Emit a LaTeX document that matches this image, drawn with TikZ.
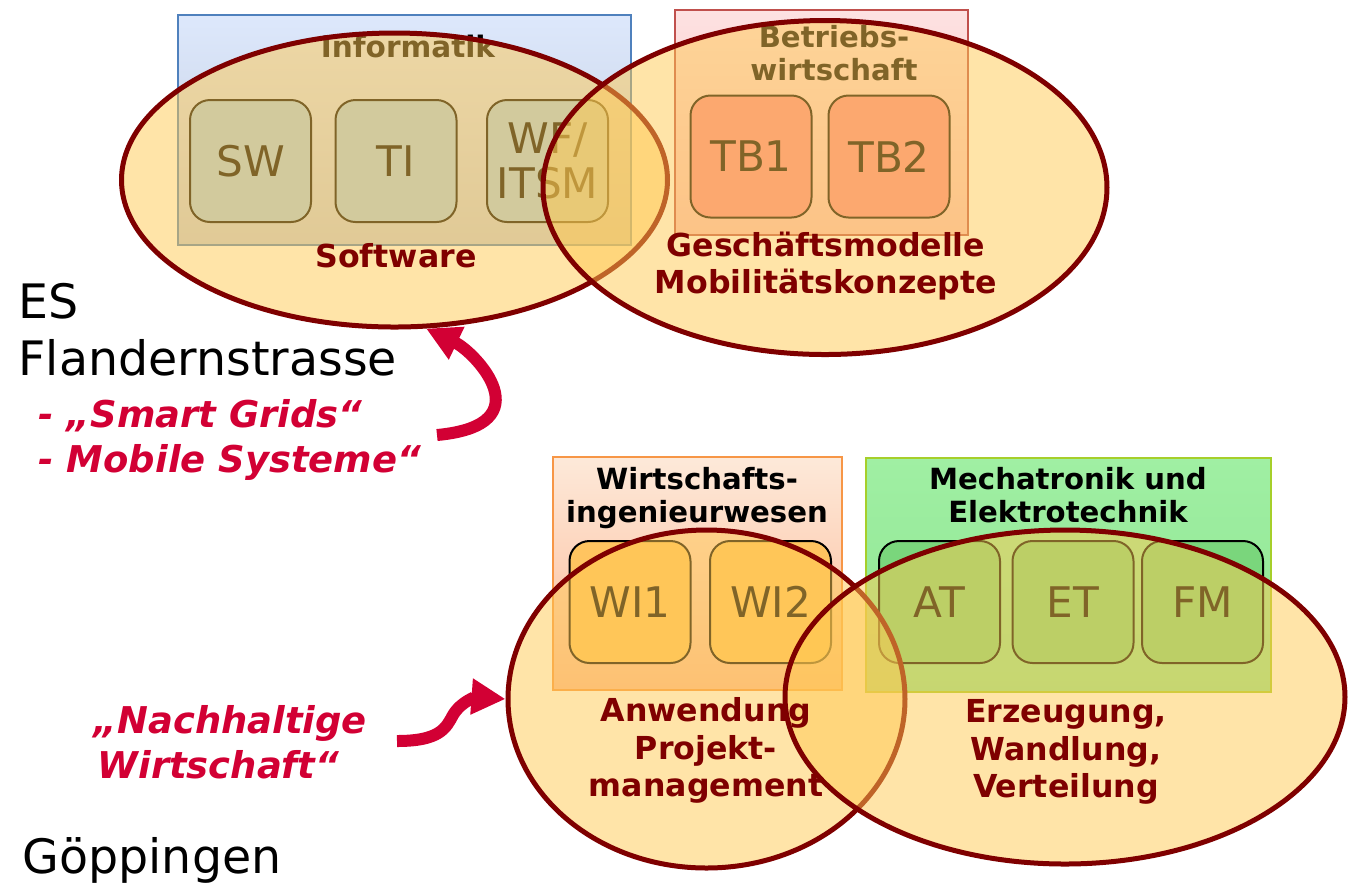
\documentclass[tikz,border=0pt]{standalone}
\usepackage{fontspec}
\setmainfont{DejaVu Sans}
\usepackage{xcolor}
\usepackage{tikz}
\usetikzlibrary{arrows.meta,shapes.geometric}
\definecolor{ellfill}{RGB}{255,201,81}
\definecolor{ellline}{RGB}{127,0,0}
\definecolor{arrred}{RGB}{210,0,52}
\definecolor{infotop}{RGB}{221,232,252}
\definecolor{infobot}{RGB}{194,204,221}
\definecolor{infoline}{RGB}{79,129,189}
\definecolor{infobox}{RGB}{165,205,235}
\definecolor{betrtop}{RGB}{253,226,226}
\definecolor{betrbot}{RGB}{250,190,190}
\definecolor{betrline}{RGB}{192,80,77}
\definecolor{tbbox}{RGB}{250,135,143}
\definecolor{witop}{RGB}{253,233,217}
\definecolor{wibot}{RGB}{252,185,150}
\definecolor{wiline}{RGB}{247,150,70}
\definecolor{wibox}{RGB}{255,196,96}
\definecolor{mttop}{RGB}{160,239,163}
\definecolor{mtbot}{RGB}{142,229,146}
\definecolor{mtline}{RGB}{166,207,42}
\definecolor{mtbox}{RGB}{122,214,124}
\tikzset{BOX style/.style={rectangle,draw=black,line width=0.2mm,rounded corners=2mm,minimum width=12.1mm,minimum height=12.2mm,inner sep=0,align=center,font=\fontsize{12}{12.8}\selectfont},
	GRP style/.style={inner sep=0,align=center,font=\bfseries\fontsize{8.3}{9.4}\selectfont},
	ELL style/.style={ellipse,draw=ellline,line width=0.5mm,fill=ellfill,fill opacity=0.5,inner sep=0},
	ELAB style/.style={inner sep=0,align=center,text=ellline,font=\bfseries\fontsize{9}{10.7}\selectfont},
	LOC style/.style={anchor=base west,inner sep=0,font=\fontsize{13.5}{16}\selectfont},
	RED style/.style={anchor=base west,inner sep=0,text=arrred,font=\bfseries\itshape\fontsize{10.5}{13}\selectfont},
	ARR style/.style={draw=arrred,line width=1.2mm,-{Triangle[width=3.4mm,length=3.4mm]}}}

\begin{document}
\begin{tikzpicture}[x=0.1mm,y=-0.1mm]
		\useasboundingbox (0,0) rectangle (1349,890);
		
		\draw[infoline,line width=0.2mm,top color=infotop,bottom color=infobot] (178,15) rectangle (631,245);
		\draw[betrline,line width=0.2mm,top color=betrtop,bottom color=betrbot] (675,10) rectangle (968,235);
		
		\node[GRP style,font=\bfseries\fontsize{8.4}{9.4}\selectfont] (informatik) at (408,46) {Informatik};
		\node[GRP style,anchor=north] (betrieb) at (834,25) {Betriebs-\\wirtschaft};
		
		\node[BOX style,fill=infobox] (swbox) at (250.5,161) {SW};
		\node[BOX style,fill=infobox] (tibox) at (396,161) {TI};
		\node[BOX style,fill=infobox] (wfbox) at (547.5,161) {WF/\\ITSM};
		\node[BOX style,fill=tbbox] (tb1box) at (751,156.5) {TB1};
		\node[BOX style,fill=tbbox] (tb2box) at (889,156.5) {TB2};
		
		\draw[wiline,line width=0.2mm,top color=witop,bottom color=wibot] (553,457) rectangle (842,690);
		\draw[mtline,line width=0.2mm,top color=mttop,bottom color=mtbot] (866,458) rectangle (1271,692);
		
		\node[GRP style,anchor=north] (wiing) at (697,467) {Wirtschafts-\\ingenieurwesen};
		\node[GRP style,anchor=north] (mecha) at (1068,467) {Mechatronik und\\Elektrotechnik};
		
		\node[BOX style,fill=wibox] (wi1box) at (630,602) {WI1};
		\node[BOX style,fill=wibox] (wi2box) at (770.5,602) {WI2};
		\node[BOX style,fill=mtbox] (atbox) at (939.5,602) {AT};
		\node[BOX style,fill=mtbox] (etbox) at (1073,602) {ET};
		\node[BOX style,fill=mtbox] (fmbox) at (1202.5,602) {FM};
		
		\node[ELL style,minimum width=54.6mm,minimum height=29.4mm] (softw) at (394.5,180) {};
		\node[ELL style,minimum width=56.4mm,minimum height=33.4mm] (gesch) at (825,187.5) {};
		\node[ELL style,minimum width=39.7mm,minimum height=33.8mm] (anwend) at (706.5,699) {};
		\node[ELL style,minimum width=56mm,minimum height=33.4mm] (erzeug) at (1065,697) {};
		
		\node[ELAB style] (softlab) at (396,256) {Software};
		\node[ELAB style,anchor=north] (geschlab) at (826,231) {Geschäftsmodelle\\Mobilitätskonzepte};
		\node[ELAB style,anchor=north] (anwlab) at (706,697) {Anwendung\\Projekt-\\management};
		\node[ELAB style,anchor=north] (erzlab) at (1066,699) {Erzeugung,\\Wandlung,\\Verteilung};
		
		\node[LOC style] (es) at (18,318) {ES};
		\node[LOC style] (flandern) at (18,375) {Flandernstrasse};
		\node[RED style] (smart) at (38,427) {- „Smart Grids“};
		\node[RED style] (mobile) at (38,472) {- Mobile Systeme“};
		
		\node[RED style] (nachhalt) at (93,733) {„Nachhaltige};
		\node[RED style] (wirtsch) at (97,778) {Wirtschaft“};
		\node[LOC style] (goepp) at (22,873) {Göppingen};
		
		\coordinate (smarttail) at (437,435);
		\coordinate (nachtail) at (397,741);
		\draw[ARR style] (smarttail) .. controls (545,425) and (475,352) .. (softw.-78);
		\draw[ARR style] (nachtail) .. controls (440,741) and (446,728) .. (453,715) .. controls (462,700) and (478,697) .. (anwend.west);
		
	\end{tikzpicture}
\end{document}
